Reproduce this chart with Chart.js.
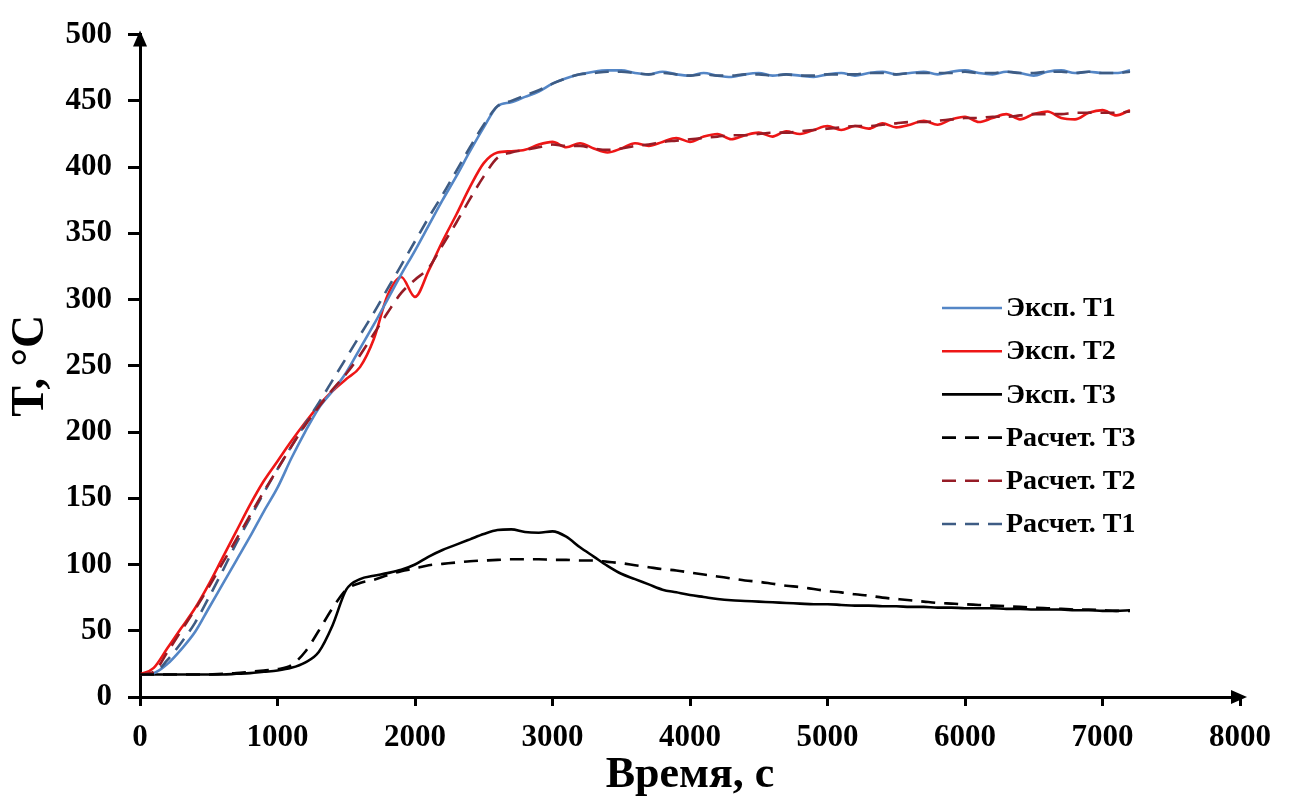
<!DOCTYPE html>
<html>
<head>
<meta charset="utf-8">
<script src="https://cdn.jsdelivr.net/npm/chart.js@4.4.1/dist/chart.umd.min.js"></script>
<style>
html,body{margin:0;padding:0;background:#fff;}
#wrap{width:1293px;height:802px;position:relative;}
</style>
</head>
<body>
<div id="wrap"><canvas id="c" width="1293" height="802"></canvas></div>
<script>
// Time, s
const times = [
  0,100,200,300,400,500,600,700,800,900,
  1000,1100,1200,1300,1400,1500,1600,1700,1800,1900,
  2000,2100,2200,2300,2400,2500,2600,2700,2800,2900,
  3000,3100,3200,3300,3400,3500,3600,3700,3800,3900,
  4000,4100,4200,4300,4400,4500,4600,4700,4800,4900,
  5000,5100,5200,5300,5400,5500,5600,5700,5800,5900,
  6000,6100,6200,6300,6400,6500,6600,6700,6800,6900,
  7000,7100,7200
];
const expT1 = [
  17,18,25,36,49,67,85,103,121,140,
  158,180,200,218,231,245,263,281,300,319,
  337,356,375,393,412,430,446,449,453,457,
  463,467,470,472,473,473,471,470,472,470,
  469,471,469,468,470,471,469,470,469,468,
  470,471,469,471,472,470,471,472,470,472,
  473,471,470,472,471,469,472,473,471,472,
  471,471,473
];
const expT2 = [
  17,22,37,52,67,85,105,125,145,163,
  178,193,207,220,231,240,249,270,303,317,
  302,322,344,364,385,403,411,412,413,417,
  419,415,418,414,411,414,418,416,419,422,
  419,423,425,421,424,426,423,427,425,428,
  431,428,431,429,433,430,432,435,432,436,
  438,434,437,440,436,440,442,437,436,441,
  443,439,443
];
const expT3 = [
  17,17,17,17,17,17,17,17.5,18,19,
  20,22,26,34,54,81,89,91.5,93.5,96,
  100,106,111,115,119,123,126,126.5,124.5,124,
  125,121,113,106,99,93,89,85,81,79,
  77,75.5,74,73,72.5,72,71.5,71,70.5,70,
  70,69.5,69,69,68.5,68.5,68,68,67.5,67.5,
  67,67,67,66.5,66.5,66,66,66,65.5,65.5,
  65,65,65.5
];
const calcT3 = [
  17,17,17,17,17,17,17.5,18,19,20,
  21,24,34,50,67,81,86,88.5,92,95,
  97,99.5,100.5,101.5,102.5,103,103.5,104,104,104,
  103.5,103.5,103,103,102,101,99.5,98,96.5,95.5,
  94,92.5,91,89.5,88,87,85.5,84,83,81.5,
  80,79,77.5,76.5,75,74,73,72,71,70.5,
  70,69.5,69,68.5,68,67.5,67,66.5,66,66,
  65.5,65,65
];
const calcT2 = [
  17,19,34,50,66,83,101,119,137,155,
  172,189,205,219,232,244,258,274,290,305,
  315,324,341,358,376,393,407,411,413,415,
  417,416,416,414,413,414,416,417,419,420,
  421,422,423,424,424,425,426,426,427,428,
  429,430,431,431,432,433,434,434,435,436,
  437,437,438,438,439,440,440,440,441,441,
  441,441,442
];
const calcT1 = [
  17,18,28,41,56,75,95,116,135,154,
  172,189,206,222,239,256,273,290,308,326,
  344,362,379,397,415,432,446,450,454,458,
  463,467,470,471,472,472,471,470,471,470,
  469,470,469,469,470,470,469,470,469,469,
  470,470,470,471,471,470,471,471,471,471,
  472,471,471,472,471,471,472,472,471,472,
  471,471,472
];
const seriesNames = ['Эксп. T1','Эксп. T2','Эксп. T3','Расчет. T3','Расчет. T2','Расчет. T1'];
const xTicks = [0,1000,2000,3000,4000,5000,6000,7000,8000];
const yTicks = [0,50,100,150,200,250,300,350,400,450,500];

const FONT = "'Liberation Serif','Times New Roman',serif";
function pts(vals){ return vals.map((v,i)=>({x:times[i], y:v})); }

const styles = [
  {color:'rgb(84,134,198)', dash:[], order:2},
  {color:'rgb(238,22,22)', dash:[], order:2},
  {color:'#000000', dash:[], order:2},
  {color:'#000000', dash:[14,9], order:1},
  {color:'rgb(150,28,38)', dash:[14,9], order:1},
  {color:'rgb(62,92,132)', dash:[14,9], order:1}
];
const seriesValues = [expT1, expT2, expT3, calcT3, calcT2, calcT1];

const datasets = seriesValues.map((vals,i)=>({
  label: seriesNames[i],
  data: pts(vals),
  borderColor: styles[i].color,
  backgroundColor: styles[i].color,
  borderDash: styles[i].dash,
  borderWidth: 2.6,
  pointRadius: 0,
  fill: false,
  tension: 0.35,
  cubicInterpolationMode: 'monotone',
  order: styles[i].order
}));

const legendPlugin = {
  id:'customLegend',
  afterDraw(chart){
    const ctx = chart.ctx;
    ctx.save();
    chart.data.datasets.forEach((ds,i)=>{
      const y = 308 + i*43.2;
      ctx.beginPath();
      ctx.strokeStyle = ds.borderColor;
      ctx.lineWidth = 2.6;
      ctx.setLineDash(ds.borderDash && ds.borderDash.length ? [14,9] : []);
      ctx.moveTo(942, y);
      ctx.lineTo(1002, y);
      ctx.stroke();
      ctx.setLineDash([]);
      ctx.fillStyle = '#000';
      ctx.font = "bold 28px " + FONT;
      ctx.textBaseline = 'middle';
      ctx.textAlign = 'left';
      ctx.fillText(ds.label, 1006, y + 1);
    });
    ctx.restore();
  }
};

const arrowPlugin = {
  id:'axisArrows',
  afterDraw(chart){
    const ctx = chart.ctx;
    const a = chart.chartArea;
    ctx.save();
    ctx.fillStyle = '#000';
    ctx.beginPath();
    ctx.moveTo(a.right + 7, a.bottom);
    ctx.lineTo(a.right - 9, a.bottom - 7);
    ctx.lineTo(a.right - 9, a.bottom + 7);
    ctx.closePath();
    ctx.fill();
    ctx.beginPath();
    ctx.moveTo(a.left, a.top - 4);
    ctx.lineTo(a.left - 7, a.top + 12);
    ctx.lineTo(a.left + 7, a.top + 12);
    ctx.closePath();
    ctx.fill();
    ctx.restore();
  }
};

new Chart(document.getElementById('c'), {
  type:'line',
  data:{datasets},
  options:{
    responsive:false,
    animation:false,
    events:[],
    layout:{padding:{left:0, right:53, top:27, bottom:0}},
    plugins:{legend:{display:false}, tooltip:{enabled:false}},
    scales:{
      x:{
        type:'linear', min:0, max:8000,
        afterFit(s){ s.height = 105; },
        afterBuildTicks(s){ s.ticks = xTicks.map(v=>({value:v})); },
        ticks:{font:{family:FONT, size:31, weight:'bold'}, color:'#000', padding:13, maxRotation:0,
               callback:(v)=>String(v)},
        grid:{display:true, drawOnChartArea:false, drawTicks:true, tickLength:9, color:'#000', lineWidth:3},
        border:{display:true, color:'#000', width:3},
        title:{display:true, text:'Время, с', font:{family:FONT, size:44, weight:'bold'}, color:'#000', padding:{top:0,bottom:0}}
      },
      y:{
        type:'linear', min:0, max:500,
        afterFit(s){ s.width = 140; },
        afterBuildTicks(s){ s.ticks = yTicks.map(v=>({value:v})); },
        ticks:{font:{family:FONT, size:31, weight:'bold'}, color:'#000', padding:16, callback:(v)=>String(v)},
        grid:{display:true, drawOnChartArea:false, drawTicks:true, tickLength:12, color:'#000', lineWidth:3},
        border:{display:true, color:'#000', width:3},
        title:{display:true, text:'T, °C', font:{family:FONT, size:46, weight:'bold'}, color:'#000', padding:{top:4,bottom:0}}
      }
    }
  },
  plugins:[legendPlugin, arrowPlugin]
});
</script>
</body>
</html>
